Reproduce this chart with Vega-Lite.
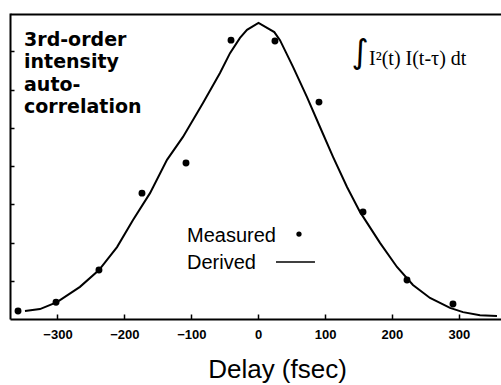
{
  "$schema": "https://vega.github.io/schema/vega-lite/v6.json",
  "autosize": {"type": "none"},
  "padding": {"left": 10, "top": 13, "right": 0, "bottom": 66},
  "width": 491,
  "height": 306,
  "background": "white",
  "config": {"view": {"stroke": null}},
  "datasets": {
    "curve": [
      {"delay": -348.6, "value": 0.21},
      {"delay": -326.2, "value": 0.26},
      {"delay": -300.7, "value": 0.44},
      {"delay": -266.4, "value": 0.84},
      {"delay": -238.0, "value": 1.28},
      {"delay": -211.0, "value": 1.88},
      {"delay": -187.1, "value": 2.59},
      {"delay": -161.7, "value": 3.29},
      {"delay": -136.3, "value": 4.16},
      {"delay": -112.4, "value": 4.76},
      {"delay": -82.5, "value": 5.65},
      {"delay": -57.1, "value": 6.43},
      {"delay": -42.1, "value": 6.95},
      {"delay": -27.2, "value": 7.35},
      {"delay": -16.7, "value": 7.56},
      {"delay": 0.5, "value": 7.74},
      {"delay": 24.1, "value": 7.5},
      {"delay": 32.6, "value": 7.29},
      {"delay": 52.1, "value": 6.59},
      {"delay": 73.0, "value": 5.8},
      {"delay": 92.4, "value": 5.02},
      {"delay": 111.9, "value": 4.24},
      {"delay": 132.8, "value": 3.45},
      {"delay": 152.2, "value": 2.8},
      {"delay": 182.1, "value": 1.99},
      {"delay": 207.5, "value": 1.36},
      {"delay": 231.4, "value": 0.89},
      {"delay": 256.9, "value": 0.55},
      {"delay": 286.8, "value": 0.29},
      {"delay": 306.2, "value": 0.18},
      {"delay": 331.6, "value": 0.1},
      {"delay": 357.0, "value": 0.08}
    ],
    "measured": [
      {"delay": -359.0, "value": 0.21},
      {"delay": -302.2, "value": 0.44},
      {"delay": -238.0, "value": 1.28},
      {"delay": -173.7, "value": 3.29},
      {"delay": -107.9, "value": 4.08},
      {"delay": -40.6, "value": 7.29},
      {"delay": 25.1, "value": 7.27},
      {"delay": 90.9, "value": 5.67},
      {"delay": 156.7, "value": 2.8},
      {"delay": 222.5, "value": 1.02},
      {"delay": 291.2, "value": 0.39}
    ],
    "one": [{}]
  },
  "layer": [
    {
      "data": {"name": "curve"},
      "mark": {"type": "line", "color": "black", "strokeWidth": 2, "interpolate": "linear"},
      "encoding": {
        "x": {
          "field": "delay", "type": "quantitative",
          "scale": {"domain": [-371, 363], "nice": false, "zero": false},
          "axis": {
            "values": [-300, -200, -100, 0, 100, 200, 300],
            "grid": false,
            "domainColor": "black", "domainWidth": 2,
            "tickColor": "black", "tickWidth": 1.5, "tickSize": -5,
            "labelFont": "Liberation Sans", "labelFontWeight": "bold", "labelFontSize": 13,
            "labelColor": "black", "labelPadding": 14,
            "title": "Delay (fsec)",
            "titleFont": "Liberation Sans", "titleFontSize": 26, "titleFontWeight": "normal",
            "titleColor": "black",
            "titleX": 267, "titleY": 58, "titleAlign": "center", "titleBaseline": "alphabetic"
          }
        },
        "y": {
          "field": "value", "type": "quantitative",
          "scale": {"domain": [0, 8], "nice": false},
          "axis": {
            "values": [1, 2, 3, 4, 5, 6, 7],
            "grid": false, "labels": false, "title": null,
            "domainColor": "black", "domainWidth": 2,
            "tickColor": "black", "tickWidth": 1.5, "tickSize": -4
          }
        }
      }
    },
    {
      "data": {"name": "measured"},
      "mark": {"type": "circle", "color": "black", "opacity": 1, "size": 48},
      "encoding": {
        "x": {"field": "delay", "type": "quantitative"},
        "y": {"field": "value", "type": "quantitative"}
      }
    },
    {
      "data": {"name": "one"},
      "mark": {"type": "rule", "color": "black", "strokeWidth": 2},
      "encoding": {"x": {"datum": -370}, "x2": {"datum": 363}, "y": {"datum": 7.96}}
    },
    {
      "data": {"name": "one"},
      "mark": {"type": "text", "align": "left", "baseline": "alphabetic", "font": "DejaVu Sans", "fontSize": 19, "fontWeight": "bold", "lineHeight": 22.5, "color": "black"},
      "encoding": {
        "x": {"datum": -350},
        "y": {"datum": 7.14},
        "text": {"value": ["3rd-order", "intensity", "auto-", "correlation"]}
      }
    },
    {
      "data": {"name": "one"},
      "mark": {"type": "text", "align": "center", "baseline": "bottom", "font": "DejaVu Sans", "fontSize": 33, "color": "black"},
      "encoding": {
        "x": {"datum": 152.2},
        "y": {"datum": 6.5},
        "text": {"value": "∫"}
      }
    },
    {
      "data": {"name": "one"},
      "mark": {"type": "text", "align": "left", "baseline": "alphabetic", "font": "Liberation Serif", "fontSize": 20, "color": "black"},
      "encoding": {
        "x": {"datum": 165.7},
        "y": {"datum": 6.64},
        "text": {"value": "I²(t) I(t-τ) dt"}
      }
    },
    {
      "data": {"name": "one"},
      "mark": {"type": "text", "align": "left", "baseline": "alphabetic", "font": "Liberation Sans", "fontSize": 20, "color": "black"},
      "encoding": {
        "x": {"datum": -106.4},
        "y": {"datum": 2.01},
        "text": {"value": "Measured"}
      }
    },
    {
      "data": {"name": "one"},
      "mark": {"type": "text", "align": "left", "baseline": "alphabetic", "font": "Liberation Sans", "fontSize": 20, "color": "black"},
      "encoding": {
        "x": {"datum": -106.4},
        "y": {"datum": 1.31},
        "text": {"value": "Derived"}
      }
    },
    {
      "data": {"name": "one"},
      "mark": {"type": "circle", "color": "black", "opacity": 1, "size": 28},
      "encoding": {"x": {"datum": 61.0}, "y": {"datum": 2.22}}
    },
    {
      "data": {"name": "one"},
      "mark": {"type": "rule", "color": "black", "strokeWidth": 1.5},
      "encoding": {"x": {"datum": 26.6}, "x2": {"datum": 84.9}, "y": {"datum": 1.49}}
    }
  ]
}
